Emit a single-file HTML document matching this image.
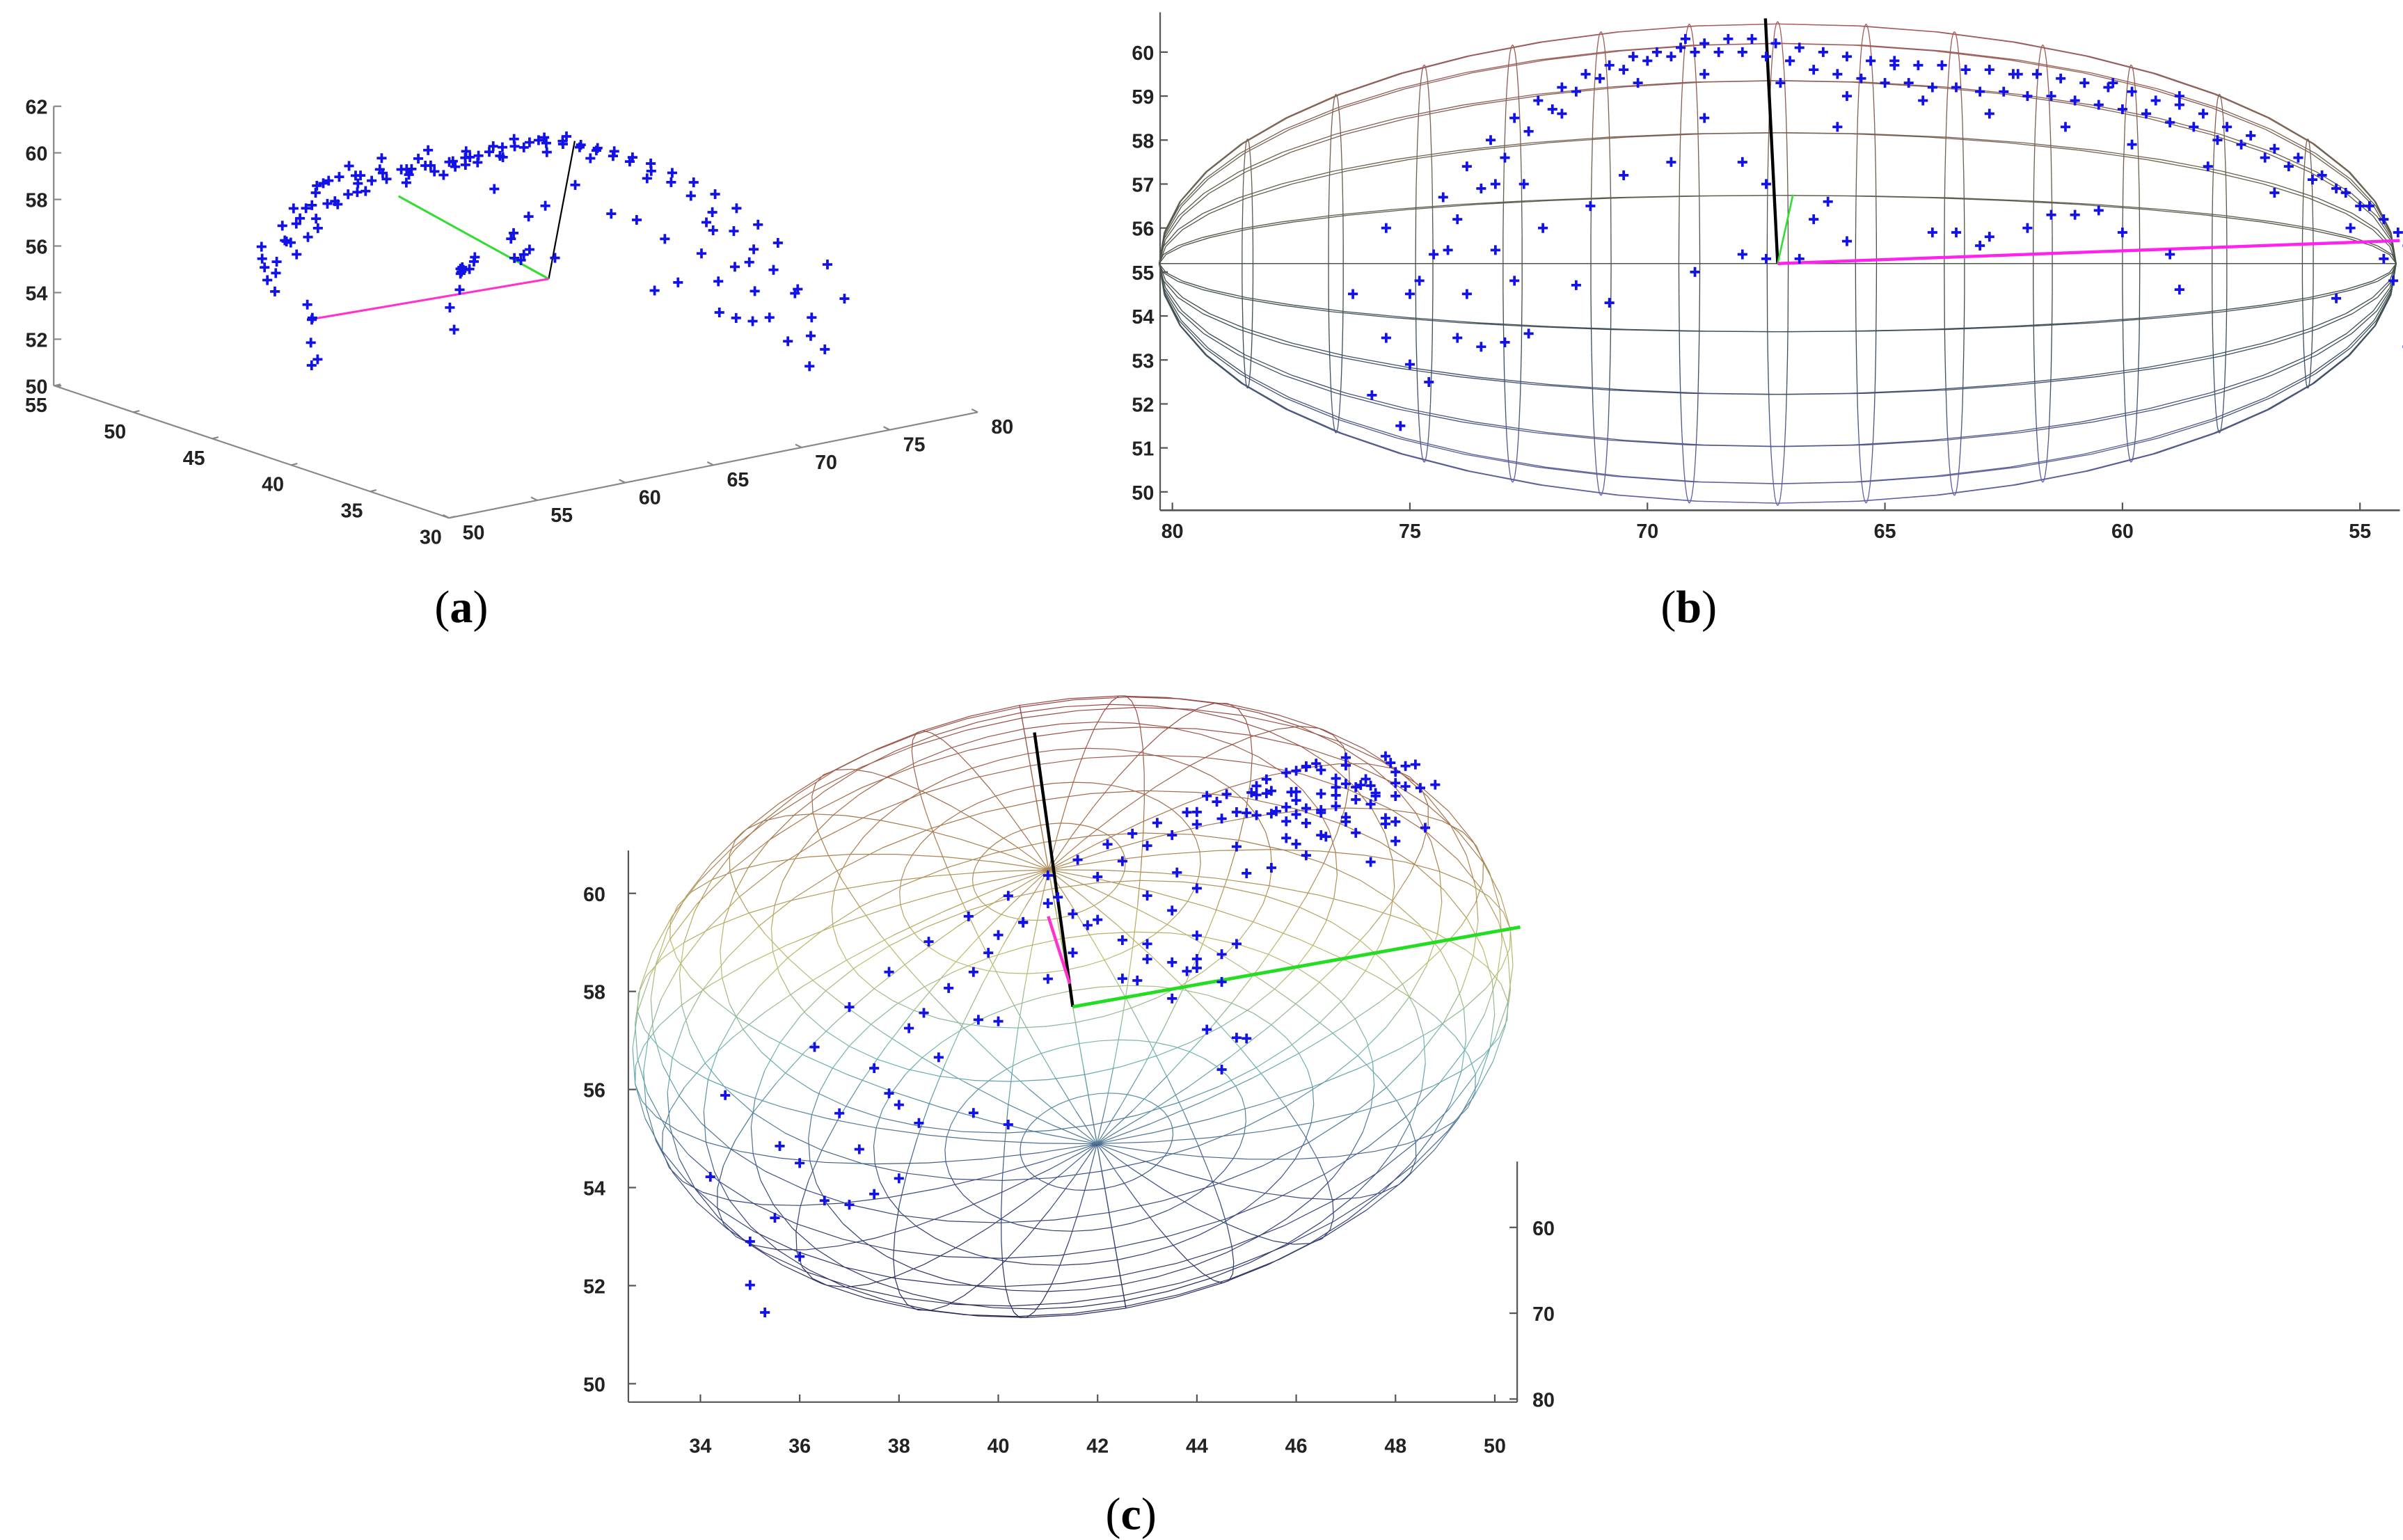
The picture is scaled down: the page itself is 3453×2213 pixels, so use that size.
<!DOCTYPE html>
<html><head><meta charset="utf-8"><title>Ellipsoid fits</title>
<style>
html,body{margin:0;padding:0;background:#fff;}
svg{display:block;}
.tk{font-family:"Liberation Sans",sans-serif;font-weight:bold;font-size:13px;fill:#222;}
.cap{font-family:"Liberation Serif",serif;font-size:30px;fill:#000;}
</style></head>
<body>
<svg id="fig" width="3453" height="2213" viewBox="0 0 1568 1005" xmlns="http://www.w3.org/2000/svg">
<g id="wireB"></g>
<g id="wireC"></g>
<g id="axesA"></g>
<g id="axesB"></g>
<g id="axesC"></g>
<g id="vecs"></g>
<g id="pts"></g>
<text class="cap" x="301" y="406" text-anchor="middle">(<tspan font-weight="bold">a</tspan>)</text>
<text class="cap" x="1102" y="406" text-anchor="middle">(<tspan font-weight="bold">b</tspan>)</text>
<text class="cap" x="738" y="998" text-anchor="middle">(<tspan font-weight="bold">c</tspan>)</text>
</svg>
<script>
// Shared 3D dataset (x: 50-80, y: 30-55, z: 50-62)
const dataX = [54.0,54.5,55.0,55.5,56.0,56.5,57.0,57.5,58.0,58.5,59.0,59.5,60.0,60.5,61.0,61.5,62.0,62.5,63.0,63.5,64.0,64.5,65.0,65.5,66.0,66.5,67.0,67.5,68.0,68.5,69.0,69.5,70.0,70.5,71.0,71.5,72.0,72.5,73.0,73.5,74.0,74.5,75.0,75.5,
55.2,56.8,58.2,59.8,61.2,62.8,64.2,65.8,67.2,68.8,70.2,71.8,73.2,74.2,
60.2,62.2,58.8,64.8,69.2,
75.8,75.2,74.6,74.0,73.5,73.0,72.5,74.8,73.8,72.8,71.5,70.8,73.2,72.2,71.2,70.5,69.5,72.6,75.5,76.2,75.0,
64.0,63.5,62.8,62.0,61.5,61.0,60.5,60.0,59.0,58.8,63.0,66.8,67.5,68.0,69.0,66.5,66.2,65.8,66.0,
54.5,54.3,53.8,53.4,54.0,55.5,68.0,68.8,67.5,
54.2,54.8,55.3,55.8,56.3,56.8,57.3,57.8,58.3,58.8,59.3,59.8,60.3,60.8,61.3,61.8,62.3,62.8,63.3,63.8,64.3,64.8,65.3,65.8,66.3,66.8,67.3,67.8,68.3,68.8,69.3,69.8,70.3,70.8,71.3,71.8,72.3,72.8,73.3,73.8,74.3];
const dataY = [45.5,46.0,46.5,45.8,47.0,46.2,47.5,46.8,48.0,47.2,48.5,47.0,48.8,47.5,48.2,46.8,47.6,46.5,47.2,46.0,46.8,45.8,46.5,45.5,46.0,45.2,45.6,44.8,45.0,44.5,44.0,43.5,43.0,42.5,42.0,41.2,40.5,39.8,39.0,38.2,37.5,36.8,36.0,35.5,
47.5,48.0,48.6,48.0,47.8,47.0,46.2,46.6,45.8,44.8,43.6,41.8,39.6,38.0,
47.0,46.0,47.8,45.5,44.0,
35.0,35.3,36.0,36.5,37.0,37.5,38.0,35.6,37.2,38.4,39.5,40.2,37.8,38.8,40.0,41.0,41.5,38.5,34.5,34.2,35.0,
44.0,43.5,43.0,42.5,42.0,41.5,41.0,40.5,40.0,39.5,43.8,44.2,44.8,45.0,44.5,44.5,44.0,43.5,45.0,
44.0,43.5,43.0,42.5,42.8,44.8,44.0,43.0,44.5,
46.2,47.2,47.8,46.5,47.6,45.9,48.0,47.4,46.5,48.2,46.2,47.9,46.4,48.4,47.0,46.2,48.0,45.8,46.8,45.4,47.3,45.2,46.0,45.1,45.4,44.6,45.2,44.2,44.4,43.8,43.2,42.7,42.2,41.6,41.0,40.2,39.4,38.6,37.8,37.0,36.3];
const dataZ = [55.6,56.2,56.5,56.9,57.1,57.4,57.6,57.9,58.0,58.3,58.4,58.6,58.7,58.8,58.9,59.0,59.0,59.1,59.1,59.2,59.2,59.3,59.3,59.4,59.5,59.6,59.8,59.9,60.0,60.0,60.0,59.9,59.8,59.6,59.4,59.1,58.7,58.2,57.6,56.9,56.2,55.4,54.5,53.5,
56.0,56.8,57.4,57.9,58.3,58.6,58.9,59.0,59.3,59.5,59.3,58.6,57.0,55.5,
59.3,59.5,59.0,59.7,60.3,
52.2,51.5,52.5,53.5,53.3,53.4,53.6,54.8,54.5,54.8,54.7,54.3,55.5,56.0,56.5,57.2,57.5,57.0,56.0,54.5,52.9,
55.9,55.9,55.8,56.0,56.3,56.3,56.4,55.9,55.4,54.6,55.6,55.3,55.3,55.4,55.0,56.2,56.6,55.7,58.3,
55.3,54.8,54.0,53.2,53.3,54.4,57.5,58.5,57.0,
55.9,56.5,56.8,57.2,57.6,57.8,58.1,58.3,58.6,58.8,58.9,59.1,59.2,59.3,59.4,59.5,59.5,59.6,59.6,59.7,59.7,59.8,59.8,59.9,60.0,60.1,60.2,60.3,60.3,60.2,60.1,60.0,59.9,59.7,59.5,59.2,58.9,58.5,58.0,57.4,56.7];

// Tick labels
const ticksAz = [50,52,54,56,58,60,62];
const ticksAy = [30,35,40,45,50,55];
const ticksAx = [50,55,60,65,70,75,80];
const ticksBx = [80,75,70,65,60,55];
const ticksBz = [50,51,52,53,54,55,56,57,58,59,60];
const ticksCy = [34,36,38,40,42,44,46,48,50];
const ticksCz = [50,52,54,56,58,60];
const ticksCx = [60,70,80];

const NS = "http://www.w3.org/2000/svg";
function mk(tag, attrs, parent){const e=document.createElementNS(NS,tag);for(const k in attrs)e.setAttribute(k,attrs[k]);parent.appendChild(e);return e;}

// Axis functions
const projA = (x,y,z)=>[293+11.5*(x-50)-10.3*(y-30), 338-2.3*(x-50)-3.45*(y-30)-15.2*(z-50)];
const bX = x=>765+31*(80-x), bZ = z=>34+28.7*(60-z);
const cY = y=>457+32.4*(y-34), cZ = z=>583-32*(z-60);
const projC = (x,y,z)=>[cY(y), cZ(z)-7.5*(75-x)];
const cXr = v=>801+5.6*(v-60);

function cmap(stops,t){t=Math.max(0,Math.min(1,t));for(let i=1;i<stops.length;i++){if(t<=stops[i][0]){const a=stops[i-1],b=stops[i];const f=(t-a[0])/(b[0]-a[0]);const c=a[1].map((v,j)=>Math.round(v+(b[1][j]-v)*f));return `rgb(${c[0]},${c[1]},${c[2]})`;}}const l=stops[stops.length-1][1];return `rgb(${l[0]},${l[1]},${l[2]})`;}

function ellipsoid(g, proj, latList, nLon, yTop, yBot, stops, sw){
  const seg=(p,q)=>{const t=((p[1]+q[1])/2-yTop)/(yBot-yTop);
    const l=mk('line',{x1:p[0].toFixed(1),y1:p[1].toFixed(1),x2:q[0].toFixed(1),y2:q[1].toFixed(1),stroke:cmap(stops,t),'stroke-width':sw},g);
    
    };
  latList.forEach(phi=>{let prev=null;
    for(let k=0;k<=48;k++){const th=2*Math.PI*k/48;const p=proj(phi,th);if(prev)seg(prev,p);prev=p;}});
  for(let j=0;j<nLon;j++){const th=2*Math.PI*j/nLon;let prev=null;
    for(let k=0;k<=24;k++){const phi=-Math.PI/2+Math.PI*k/24;const p=proj(phi,th);if(prev)seg(prev,p);prev=p;}}
}

// Panel b wireframe
(function(){
  const cx=1160,cy=172,P=404,E=158,b=2.5*Math.PI/180;
  const proj=(phi,th)=>{const px=E*Math.cos(phi)*Math.cos(th),py=E*Math.cos(phi)*Math.sin(th),pz=P*Math.sin(phi);
    return [cx+pz*Math.cos(b)+px*Math.sin(b), cy+py];};
  const lats=[];for(let i=1;i<14;i++)lats.push(Math.asin(-1+2*i/14));
  ellipsoid(document.getElementById('wireB'),proj,lats,22,14,330,
    [[0,[170,90,90]],[0.3,[110,100,80]],[0.5,[70,80,70]],[0.7,[60,80,100]],[1,[100,100,170]]],0.6);
})();
// Panel c wireframe
(function(){
  const cx=700,cy=657,A=290,B=200,C=200,a=27*Math.PI/180,gm=-10*Math.PI/180;
  const proj=(phi,th)=>{const px=A*Math.cos(phi)*Math.cos(th),py=B*Math.cos(phi)*Math.sin(th),pz=C*Math.sin(phi);
    const X1=px,Y1=py*Math.cos(a)-pz*Math.sin(a);
    return [cx+X1*Math.cos(gm)-Y1*Math.sin(gm), cy+X1*Math.sin(gm)+Y1*Math.cos(gm)];};
  const lats=[];for(let i=1;i<18;i++)lats.push(-Math.PI/2+Math.PI*i/18);
  ellipsoid(document.getElementById('wireC'),proj,lats,24,455,860,
    [[0,[150,70,70]],[0.25,[170,130,80]],[0.42,[190,190,110]],[0.58,[110,180,180]],[0.78,[60,80,130]],[1,[40,40,90]]],0.55);
})();

// Axes A
(function(){
  const g=document.getElementById('axesA');const st={stroke:'#888','stroke-width':1,fill:'none'};
  let e=mk('line',Object.assign({x1:35,y1:projA(50,55,62)[1],x2:35,y2:projA(50,55,50)[1]},st),g);
  
  const o=projA(50,30,50),pY=projA(50,55,50),pX=projA(80,30,50);
  e=mk('line',Object.assign({x1:pY[0],y1:pY[1],x2:o[0],y2:o[1]},st),g);
  
  e=mk('line',Object.assign({x1:o[0],y1:o[1],x2:pX[0],y2:pX[1]},st),g);
  
  ticksAz.forEach(v=>{const p=projA(50,55,v);mk('line',{x1:35,y1:p[1],x2:40,y2:p[1],stroke:'#888'},g);
    const t=mk('text',{x:31,y:p[1]+5,'text-anchor':'end',class:'tk'},g);t.textContent=v;
    });
  ticksAy.forEach(v=>{const p=projA(50,v,50);mk('line',{x1:p[0],y1:p[1],x2:p[0]+4,y2:p[1]-1,stroke:'#888'},g);
    const t=mk('text',{x:p[0]-12,y:p[1]+17,'text-anchor':'middle',class:'tk'},g);t.textContent=v;
    });
  ticksAx.forEach(v=>{const p=projA(v,30,50);mk('line',{x1:p[0],y1:p[1],x2:p[0]-4,y2:p[1]-2,stroke:'#888'},g);
    const t=mk('text',{x:p[0]+16,y:p[1]+14,'text-anchor':'middle',class:'tk'},g);t.textContent=v;
    });
})();
// Axes B
(function(){
  const g=document.getElementById('axesB');
  let e=mk('line',{x1:757,y1:8,x2:757,y2:333,stroke:'#555','stroke-width':1},g);
  
  e=mk('line',{x1:757,y1:333,x2:1566,y2:333,stroke:'#555','stroke-width':1.2},g);
  
  ticksBz.forEach(v=>{mk('line',{x1:757,y1:bZ(v),x2:762,y2:bZ(v),stroke:'#555'},g);
    const t=mk('text',{x:753,y:bZ(v)+5,'text-anchor':'end',class:'tk'},g);t.textContent=v;
    });
  ticksBx.forEach(v=>{mk('line',{x1:bX(v),y1:333,x2:bX(v),y2:328,stroke:'#555'},g);
    const t=mk('text',{x:bX(v),y:351,'text-anchor':'middle',class:'tk'},g);t.textContent=v;
    });
})();
// Axes C
(function(){
  const g=document.getElementById('axesC');
  let e=mk('line',{x1:410,y1:555,x2:410,y2:915,stroke:'#555'},g);
  
  e=mk('line',{x1:410,y1:915,x2:990,y2:915,stroke:'#555'},g);
  
  e=mk('line',{x1:990,y1:758,x2:990,y2:915,stroke:'#555'},g);
  
  ticksCz.forEach(v=>{mk('line',{x1:410,y1:cZ(v),x2:415,y2:cZ(v),stroke:'#555'},g);
    const t=mk('text',{x:395,y:cZ(v)+5,'text-anchor':'end',class:'tk'},g);t.textContent=v;
    });
  ticksCy.forEach(v=>{mk('line',{x1:cY(v),y1:915,x2:cY(v),y2:910,stroke:'#555'},g);
    const t=mk('text',{x:cY(v),y:948,'text-anchor':'middle',class:'tk'},g);t.textContent=v;
    });
  ticksCx.forEach(v=>{mk('line',{x1:990,y1:cXr(v),x2:985,y2:cXr(v),stroke:'#555'},g);
    const t=mk('text',{x:1000,y:cXr(v)+5,'text-anchor':'start',class:'tk'},g);t.textContent=v;
    });
})();
// Principal axis vectors
(function(){
  const g=document.getElementById('vecs');
  const L=[['#000',358,182,375,92,1],['#33dd33',358,182,260,128,1.4],['#ff33cc',358,182,205,208,1.4],
           ['#000',1152,12,1160,172,2],['#33dd33',1160,172,1170,127,1.2],['#ff22ee',1160,172,1566,157,2],
           ['#000',675,478,700,657,2],['#ff33cc',684,598,698,642,2],['#22dd22',700,657,992,605,2.2]];
  L.forEach(a=>{const e=mk('line',{x1:a[1],y1:a[2],x2:a[3],y2:a[4],stroke:a[0],'stroke-width':a[5]},g);
    });
})();
// Data points
(function(){
  const g=document.getElementById('pts');
  function plus(p,name){const s=3.2;
    const e=mk('path',{d:`M${(p[0]-s).toFixed(1)} ${p[1].toFixed(1)}h${2*s}M${p[0].toFixed(1)} ${(p[1]-s).toFixed(1)}v${2*s}`,stroke:'#1212e6','stroke-width':1.7,fill:'none'},g);
    }
  for(let i=0;i<dataX.length;i++){
    plus(projA(dataX[i],dataY[i],dataZ[i]),'point-a');
    plus([bX(dataX[i]),bZ(dataZ[i])],'point-b');
    plus(projC(dataX[i],dataY[i],dataZ[i]),'point-c');
  }
})();
</script>
</body></html>
